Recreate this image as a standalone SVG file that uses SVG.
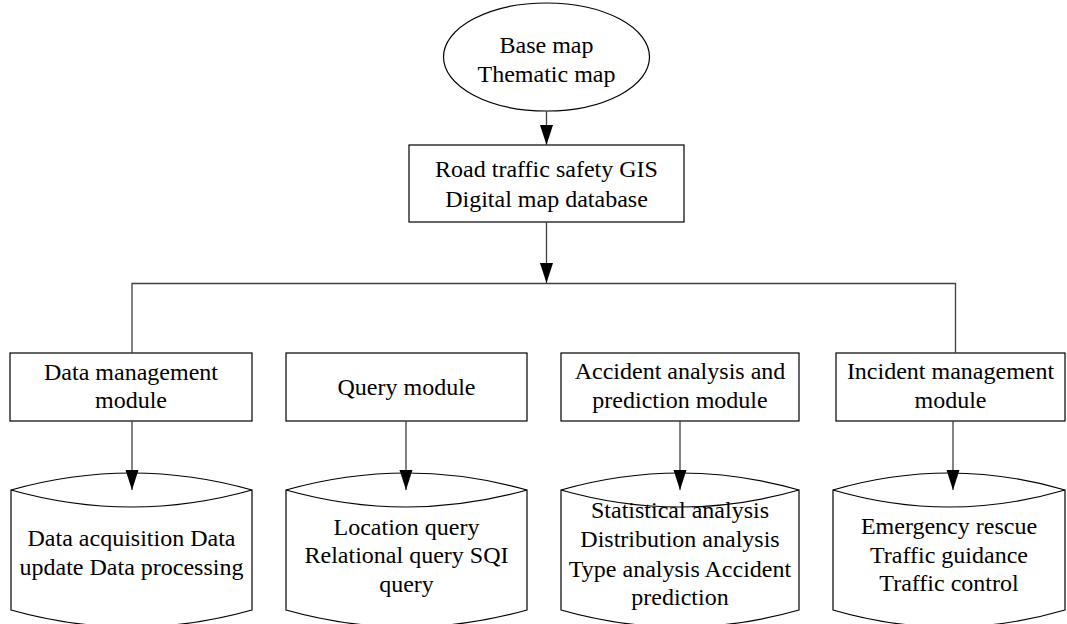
<svg xmlns="http://www.w3.org/2000/svg" width="1067" height="624" viewBox="0 0 1067 624">
<style>
.s{fill:#fff;stroke:#000;stroke-width:1.2}
.t{font-family:"Liberation Serif","Times New Roman",serif;font-size:24px;fill:#000;text-anchor:middle}
.c{fill:none;stroke:#404040;stroke-width:1.3}
</style>
<defs>
<marker id="ah" markerUnits="userSpaceOnUse" markerWidth="20" markerHeight="14" refX="20" refY="7" orient="auto">
<path d="M0,0.5 L20,7 L0,13.5 z" fill="#000"/>
</marker>
</defs>
<rect width="1067" height="624" fill="#fff"/>
<g id="base-map">
<ellipse class="s" cx="546.5" cy="57" rx="103" ry="54"/>
<text class="t" x="546.5" y="53">Base map</text>
<text class="t" x="546.5" y="82">Thematic map</text>
</g>
<g id="gis-db">
<rect class="s" x="409" y="145" width="275" height="77"/>
<text class="t" x="546.5" y="177">Road traffic safety GIS</text>
<text class="t" x="546.5" y="207">Digital map database</text>
</g>
<g id="data-mgmt">
<rect class="s" x="10" y="353" width="242" height="68"/>
<text class="t" x="131" y="380">Data management</text>
<text class="t" x="131" y="408">module</text>
</g>
<g id="query">
<rect class="s" x="286" y="353" width="241" height="68"/>
<text class="t" x="406.5" y="395">Query module</text>
</g>
<g id="accident">
<rect class="s" x="561" y="353" width="238" height="68"/>
<text class="t" x="680" y="379">Accident analysis and</text>
<text class="t" x="680" y="408">prediction module</text>
</g>
<g id="incident">
<rect class="s" x="836" y="353" width="229" height="68"/>
<text class="t" x="950.5" y="379">Incident management</text>
<text class="t" x="950.5" y="408">module</text>
</g>
<g id="db-data">
<path class="s" d="M11,490 L11,610 Q131.5,644 252,610 L252,490 Q131.5,456 11,490 Z"/>
<path class="s" fill="none" d="M11,490 Q131.5,524 252,490"/>
<text class="t" x="131.5" y="546">Data acquisition Data</text>
<text class="t" x="131.5" y="575">update Data processing</text>
</g>
<g id="db-query">
<path class="s" d="M286,490 L286,610 Q406.5,644 527,610 L527,490 Q406.5,456 286,490 Z"/>
<path class="s" fill="none" d="M286,490 Q406.5,524 527,490"/>
<text class="t" x="406.5" y="535">Location query</text>
<text class="t" x="406.5" y="563">Relational query SQI</text>
<text class="t" x="406.5" y="592">query</text>
</g>
<g id="db-accident">
<path class="s" d="M561,490 L561,610 Q680,644 799,610 L799,490 Q680,456 561,490 Z"/>
<path class="s" fill="none" d="M561,490 Q680,524 799,490"/>
<text class="t" x="680" y="518">Statistical analysis</text>
<text class="t" x="680" y="547">Distribution analysis</text>
<text class="t" x="680" y="577">Type analysis Accident</text>
<text class="t" x="680" y="605">prediction</text>
</g>
<g id="db-incident">
<path class="s" d="M833,490 L833,610 Q949,644 1065,610 L1065,490 Q949,456 833,490 Z"/>
<path class="s" fill="none" d="M833,490 Q949,524 1065,490"/>
<text class="t" x="949" y="534">Emergency rescue</text>
<text class="t" x="949" y="563">Traffic guidance</text>
<text class="t" x="949" y="591">Traffic control</text>
</g>
<g id="connectors">
<line class="c" x1="546.5" y1="111" x2="546.5" y2="145" marker-end="url(#ah)"/>
<line class="c" x1="546.5" y1="222" x2="546.5" y2="283" marker-end="url(#ah)"/>
<polyline class="c" points="132,353 132,283.5 955.5,283.5 955.5,353"/>
<line class="c" x1="132" y1="421" x2="132" y2="490" marker-end="url(#ah)"/>
<line class="c" x1="406" y1="421" x2="406" y2="490" marker-end="url(#ah)"/>
<line class="c" x1="680" y1="421" x2="680" y2="490" marker-end="url(#ah)"/>
<line class="c" x1="953" y1="421" x2="953" y2="490" marker-end="url(#ah)"/>
</g>
</svg>
